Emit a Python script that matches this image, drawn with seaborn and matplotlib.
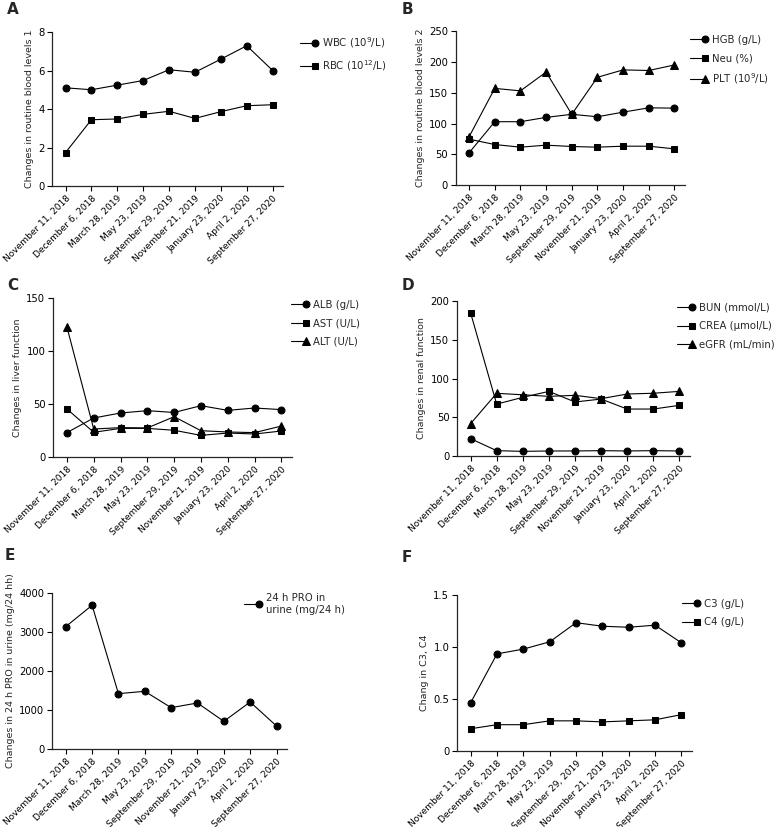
import matplotlib
matplotlib.use('Agg')
import matplotlib.pyplot as plt
import seaborn as sns
import numpy as np
from matplotlib.ticker import FuncFormatter
from matplotlib.legend_handler import HandlerLine2D
from matplotlib.lines import Line2D

# Fechas de seguimiento
dates = ['November 11, 2018', 'December 6, 2018', 'March 28, 2019', 'May 23, 2019',
         'September 29, 2019', 'November 21, 2019', 'January 23, 2020', 'April 2, 2020',
         'September 27, 2020']

# A - routine blood 1
wbc = [5.11, 5.01, 5.25, 5.49, 6.05, 5.92, 6.60, 7.30, 6.01]
rbc = [1.74, 3.45, 3.49, 3.73, 3.89, 3.52, 3.87, 4.18, 4.23]

# B - routine blood 2
hgb = [52.5, 103, 103, 110, 115, 111, 118.5, 125.5, 125]
neu = [74.7, 66, 61.7, 65, 62.8, 61.7, 63.3, 63.3, 59]
plt_vals = [78.5, 157, 153, 183.4, 115, 175, 187, 186, 195]

# C - liver function
alb = [23, 36.8, 41.5, 43.7, 42, 48.4, 44, 46.2, 44.7]
ast = [45.3, 23.3, 27, 27, 25.2, 20.4, 22.6, 21.7, 24.5]
alt = [122.6, 26.4, 27.7, 27.4, 38, 24.8, 23.6, 23, 29.2]

# D - renal function
bun = [22.4, 6.9, 6.0, 6.5, 6.5, 6.9, 6.5, 6.9, 6.5]
crea = [185, 67, 75.7, 83.4, 69.7, 73.5, 60.6, 60.6, 65.4]
egfr = [41.7, 80.9, 79, 77, 78.3, 74, 80, 81, 83.4]

# E - 24 h urine protein
pro = [3137, 3684, 1419, 1479, 1060, 1180, 709, 1205, 590]

# F - complement
c3 = [0.464, 0.934, 0.98, 1.05, 1.234, 1.20, 1.19, 1.21, 1.04]
c4 = [0.214, 0.253, 0.253, 0.29, 0.29, 0.28, 0.29, 0.30, 0.35]

sns.set_style('ticks')
plt.rcParams['font.family'] = ['DejaVu Sans']
plt.rcParams['axes.linewidth'] = 0.9

W, H = 779, 827
fig = plt.figure(figsize=(W / 100, H / 100), dpi=100)


class MarkerRight(HandlerLine2D):
    """Marcador al final de la linea, como en el original"""
    def create_artists(self, legend, orig_handle, xdescent, ydescent, width, height, fontsize, trans):
        arts = super().create_artists(legend, orig_handle, xdescent, ydescent, width, height, fontsize, trans)
        for a in arts:
            if len(a.get_xdata()) == 3:
                a.set_markevery([2])
        return arts


panels = [
    dict(letter='A', lpos=(7, 9), rect=[0.0668, 0.775, 0.2965, 0.186],
         series=[(wbc, 'o', 'WBC (10$^{9}$/L)'), (rbc, 's', 'RBC (10$^{12}$/L)')],
         ylim=(0, 8), yticks=[0, 2, 4, 6, 8], ylabel='Changes in routine blood levels 1',
         leg=(300, 35)),
    dict(letter='B', lpos=(402, 9), rect=[0.585, 0.776, 0.294, 0.1865],
         series=[(hgb, 'o', 'HGB (g/L)'), (neu, 's', 'Neu (%)'), (plt_vals, '^', 'PLT (10$^{9}$/L)')],
         ylim=(0, 250), yticks=[0, 50, 100, 150, 200, 250], ylabel='Changes in routine blood levels 2',
         leg=(690, 35)),
    dict(letter='C', lpos=(7, 286), rect=[0.068, 0.4474, 0.307, 0.1923],
         series=[(alb, 'o', 'ALB (g/L)'), (ast, 's', 'AST (U/L)'), (alt, '^', 'ALT (U/L)')],
         ylim=(0, 150), yticks=[0, 50, 100, 150], ylabel='Changes in liver function',
         leg=(291, 300)),
    dict(letter='D', lpos=(402, 285), rect=[0.5866, 0.4486, 0.299, 0.1874],
         series=[(bun, 'o', 'BUN (mmol/L)'), (crea, 's', 'CREA (μmol/L)'), (egfr, '^', 'eGFR (mL/min)')],
         ylim=(0, 200), yticks=[0, 50, 100, 150, 200], ylabel='Changes in renal function',
         leg=(677, 303)),
    dict(letter='E', lpos=(5, 555), rect=[0.0668, 0.0943, 0.3017, 0.1887],
         series=[(pro, 'o', '24 h PRO in\nurine (mg/24 h)')],
         ylim=(0, 4000), yticks=[0, 1000, 2000, 3000, 4000], ylabel='Changes in 24 h PRO in urine (mg/24 hh)',
         leg=(244, 593)),
    dict(letter='F', lpos=(402, 557), rect=[0.5866, 0.0919, 0.3017, 0.1886],
         series=[(c3, 'o', 'C3 (g/L)'), (c4, 's', 'C4 (g/L)')],
         ylim=(0, 1.5), yticks=[0, 0.5, 1.0, 1.5], ylabel='Chang in C3, C4',
         leg=(682, 599)),
]

x = np.arange(len(dates))


def fmt_tick(v, pos):
    if v == 0:
        return '0'
    if float(v).is_integer() and v >= 2:
        return f'{int(v)}'
    return f'{v:.1f}'


for p in panels:
    ax = fig.add_axes(p['rect'])
    for vals, mk, lab in p['series']:
        sns.lineplot(x=x, y=vals, marker=mk, color='black', linewidth=0.8,
                     markersize=5 if mk != '^' else 5.5, markeredgecolor='black',
                     label=lab, ax=ax)
    ax.set_xlim(-0.52, 8.4)
    ax.set_ylim(*p['ylim'])
    ax.set_yticks(p['yticks'])
    ax.yaxis.set_major_formatter(FuncFormatter(fmt_tick))
    ax.set_xticks(x)
    ax.set_xticklabels(dates, rotation=45, ha='right', rotation_mode='anchor')
    ax.tick_params(axis='both', length=3.5, width=0.8, colors='black', pad=2)
    ax.tick_params(axis='x', labelsize=6.5)
    ax.tick_params(axis='y', labelsize=7.2)
    ax.set_ylabel(p['ylabel'], fontsize=6.8, labelpad=3)
    ax.set_xlabel('')
    sns.despine(ax=ax)
    lx, ly = p['leg']
    ax.legend(loc='upper left', bbox_to_anchor=(lx / W, 1 - ly / H), bbox_transform=fig.transFigure,
              frameon=False, fontsize=7.3, handlelength=1.5, handletextpad=0.7,
              labelspacing=0.8, borderaxespad=0, borderpad=0,
              handler_map={Line2D: MarkerRight(numpoints=1)})
    tx, ty = p['lpos']
    fig.text(tx / W, 1 - ty / H, p['letter'], fontsize=11,
             fontweight='bold', ha='left', va='center')

fig.savefig('out.png', dpi=100)
plt.close()
